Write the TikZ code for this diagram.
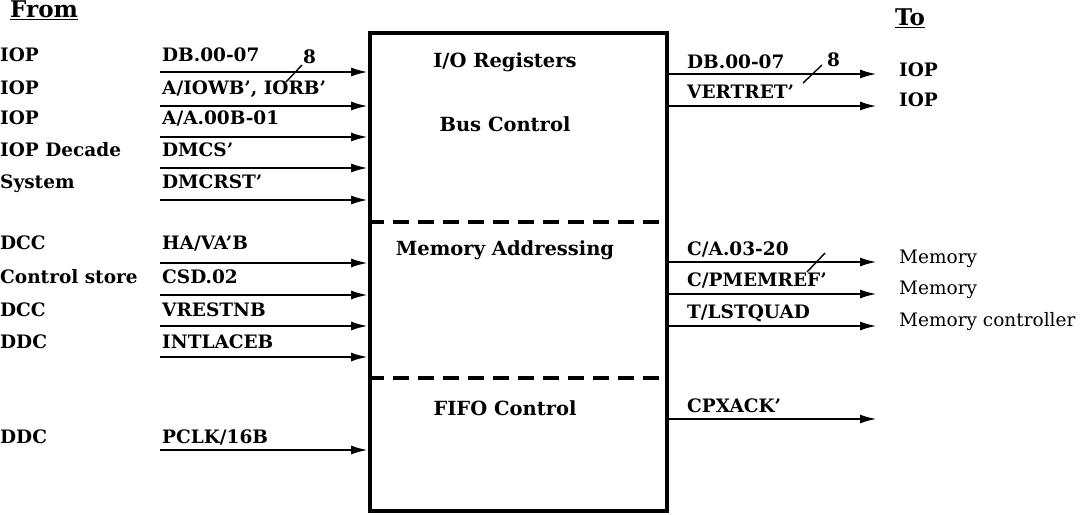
\documentclass[tikz,border=0pt]{standalone}
\usepackage{fontspec}
\setmainfont{DejaVu Serif}
\usetikzlibrary{positioning, arrows.meta}

\begin{document}
\begin{tikzpicture}[x=1pt, y=-1pt, >={Latex[length=17pt, width=9pt]},
    font=\fontsize{18.5}{22}\selectfont\bfseries,
    sig/.style={->, line width=2.4pt},
    txt/.style={anchor=base west, inner sep=0pt},
    dest/.style={txt, font=\fontsize{18.5}{22}\selectfont},
    title/.style={anchor=base, inner sep=0pt, font=\fontsize{19.5}{23}\selectfont\bfseries},
    head/.style={txt, font=\fontsize{23}{27}\selectfont\bfseries},
    divider/.style={line width=3.2pt, dash pattern=on 16pt off 9pt},
    busmark/.style={line width=1.4pt}]
\useasboundingbox (0,0) rectangle (1089,514);

\node[head] (from) at (10,17) {\underline{From}};
\node[head] (to) at (895,25) {\underline{To}};

% the block
\node[draw, line width=3.8pt, minimum width=297pt, minimum height=478pt, inner sep=0pt] (blk) at (518.5,272) {};
\coordinate (cut1) at (0,222);
\coordinate (cut2) at (0,378);
\draw[divider] (blk.west |- cut1) -- (blk.east |- cut1);
\draw[divider] (blk.west |- cut2) -- (blk.east |- cut2);

\node[title] (ioreg) at (505,67) {I/O Registers};
\node[title] (busctl) at (505,131) {Bus Control};
\node[title] (memadr) at (505,255) {Memory Addressing};
\node[title] (fifo) at (505,415) {FIFO Control};

% inputs
\foreach \ya/\yb/\sig/\src [count=\i] in {
    72/61/DB.00-07/IOP,
    106/94/{A/IOWB', IORB'}/IOP,
    137/124/{A/A.00B-01}/IOP,
    168/156/DMCS'/{IOP Decade},
    200/188/DMCRST'/System,
    263/249/{HA/VA'B}/DCC,
    295/283/CSD.02/{Control store},
    326/316/VRESTNB/DCC,
    357/348/INTLACEB/DDC,
    450/443/{PCLK/16B}/DDC} {
  \coordinate (in\i) at (160,\ya);
  \draw[sig] (in\i) -- (in\i -| blk.west);
  \node[txt] (insig\i) at (162,\yb) {\sig};
  \node[txt] (insrc\i) at (0,\yb) {\src};
}

% outputs
\foreach \ya/\yb/\sig/\dst/\look [count=\i] in {
    74/68/DB.00-07/IOP/txt,
    106/98/VERTRET'/IOP/txt,
    262/255/{C/A.03-20}/Memory/dest,
    294/286/{C/PMEMREF'}/Memory/dest,
    326/318/{T/LSTQUAD}/{Memory controller}/dest} {
  \coordinate (out\i) at (877,\ya);
  \draw[sig] (out\i -| blk.east) -- (out\i);
  \node[txt] (outsig\i) at (687,\yb) {\sig};
  \node[\look] (outdst\i) at (899,\yb+8) {\dst};
}
\coordinate (out6) at (877,419);
\draw[sig] (out6 -| blk.east) -- (out6);
\node[txt] (outsig6) at (687,412) {CPXACK'};

% bus widths
\draw[busmark] (in1) ++(126,10) -- ++(16,-17);
\node[txt] (w1) at (303,63) {8};
\draw[busmark] (out1) ++(-74,9) -- ++(19,-18);
\node[txt] (w2) at (827,66) {8};
\draw[busmark] (out3) ++(-70,10) -- ++(18,-19);
\end{tikzpicture}
\end{document}
